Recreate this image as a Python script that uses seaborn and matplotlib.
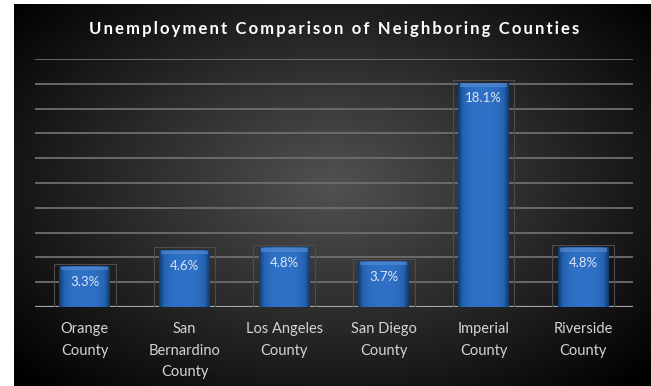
import numpy as np
import pandas as pd
import matplotlib
matplotlib.use("Agg")
import matplotlib.pyplot as plt
import seaborn as sns
from matplotlib.patches import Rectangle

counties = ["Orange\nCounty", "San\nBernardino\nCounty", "Los Angeles\nCounty",
            "San Diego\nCounty", "Imperial\nCounty", "Riverside\nCounty"]
rates = [3.3, 4.6, 4.8, 3.7, 18.1, 4.8]
rate_labels = ["3.3%", "4.6%", "4.8%", "3.7%", "18.1%", "4.8%"]
title = "Unemployment Comparison of Neighboring Counties"

sns.set_theme(style="white")
plt.rcParams["font.family"] = ["Lato", "DejaVu Sans"]

W, H = 651, 386
fig = plt.figure(figsize=(W / 100, H / 100), dpi=100)
fig.patch.set_facecolor("white")

# dark background with a soft lighter centre
bg = fig.add_axes([14 / W, 0, 1 - 14 / W, (H - 4) / H])
yy, xx = np.mgrid[-1:1:300j, -1:1:500j]
r = np.sqrt((xx / 1.05) ** 2 + ((yy - 0.05) / 1.15) ** 2)
shade = np.clip(0.32 - 0.25 * r, 0.0, 1)
bg.imshow(np.dstack([shade] * 3), aspect="auto", extent=[0, 1, 0, 1], origin="lower")
bg.set_axis_off()

df = pd.DataFrame({"county": counties, "rate": rates})
ax = fig.add_axes([35 / W, (H - 307) / H, (633 - 35) / W, (307 - 59) / H])
ax.set_facecolor("none")
sns.barplot(data=df, x="county", y="rate", color="#2b6cc0", width=0.51,
            saturation=1, linewidth=0, ax=ax, zorder=3)
ax.set_yticks(np.arange(0, 21, 2))
ax.yaxis.grid(True, color="#6e6e6e", lw=1.3, zorder=0)
ax.axhline(0, color="#a6a6a6", lw=1.6, zorder=2)
for s in ax.spines.values():
    s.set_visible(False)
ax.set_yticklabels([])
ax.tick_params(left=False, bottom=False, pad=5)
ax.set_xlabel("")
ax.set_ylabel("")
plt.setp(ax.get_xticklabels(), color="#d4d4d4", fontsize=10.5, linespacing=1.68)

# blue horizontal gradient inside each bar, plus thin frame
grad = 1 - np.abs(np.linspace(-1, 1, 64)) ** 3
cmap = matplotlib.colors.LinearSegmentedColormap.from_list(
    "bar", ["#123a6c", "#2563b3", "#2f71c6"])
for p, lab in zip(ax.patches, rate_labels):
    x0, w, h = p.get_x(), p.get_width(), p.get_height()
    im = ax.imshow(grad[None, :], cmap=cmap, aspect="auto",
                   extent=[x0, x0 + w, 0, h], zorder=3, vmin=0, vmax=1)
    im.set_clip_path(p)
    # light bevel at bar top
    ax.add_patch(Rectangle((x0 + 0.02, h - 0.35), w - 0.04, 0.3, color="#5b8fd3",
                           lw=0, zorder=4, alpha=0.6))
    ax.add_patch(Rectangle((x0 - 0.055, -0.65), w + 0.11, h + 0.85, fill=False,
                           ec="#4d4d4d", lw=0.8, zorder=2))
    ax.text(x0 + w / 2, h - 0.8, lab, ha="center", va="top", color="#dce6f2",
            fontsize=9.5, zorder=5)
ax.set_aspect("auto")
ax.set_xlim(-0.5, 5.5)
ax.set_ylim(0, 20)

spaced = "\u2009".join(title).replace("\u2009 \u2009", "\u2002")
fig.text(0.513, 1 - 29 / H, spaced, ha="center", va="center", color="white",
         fontsize=12, fontweight="bold")

fig.savefig("out.png", dpi=100)
